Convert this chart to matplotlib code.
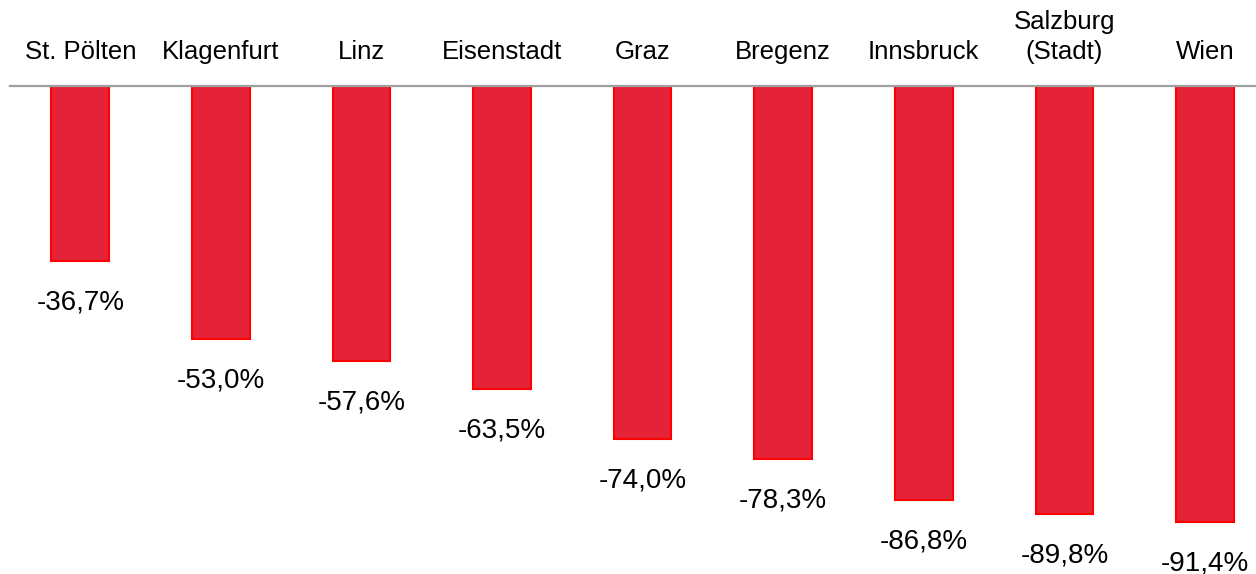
import matplotlib
matplotlib.use("Agg")
import matplotlib.pyplot as plt

plt.rcParams['font.family'] = ['Liberation Sans', 'DejaVu Sans']

categories = ["St. Pölten", "Klagenfurt", "Linz", "Eisenstadt", "Graz",
              "Bregenz", "Innsbruck", "Salzburg\n(Stadt)", "Wien"]
values = [-36.7, -53.0, -57.6, -63.5, -74.0, -78.3, -86.8, -89.8, -91.4]
value_labels = ["-36,7%", "-53,0%", "-57,6%", "-63,5%", "-74,0%",
                "-78,3%", "-86,8%", "-89,8%", "-91,4%"]

W, H = 1256, 574
fig = plt.figure(figsize=(W / 100, H / 100), dpi=100)
left_px, top_px = 10, 86
ax = fig.add_axes([left_px / W, 0, (W - left_px) / W, (H - top_px) / H])

x = list(range(len(categories)))
ax.bar(x, values, width=0.41, color="#E42338", edgecolor="#FF0000",
       linewidth=1.5, zorder=2)

for xi, v, lab in zip(x, values, value_labels):
    ax.annotate(lab, (xi, v), xytext=(0, -30), textcoords="offset points",
                ha="center", va="center", fontsize=20, color="black",
                annotation_clip=False)

ax.set_xlim(-0.5, (W - 80.5) / 140.56 - 0 + 0.0)
ax.set_ylim(-102.4, 0)

ax.xaxis.tick_top()
ax.set_xticks(x)
ax.set_xticklabels(categories, fontsize=18.5, linespacing=1.3)
ax.tick_params(axis="x", length=0, pad=16)
ax.set_yticks([])

for s in ["left", "right", "bottom"]:
    ax.spines[s].set_visible(False)
ax.spines["top"].set_color("#A0A0A0")
ax.spines["top"].set_linewidth(1.6)
ax.spines["top"].set_zorder(3)

fig.savefig("out.png", dpi=100)
